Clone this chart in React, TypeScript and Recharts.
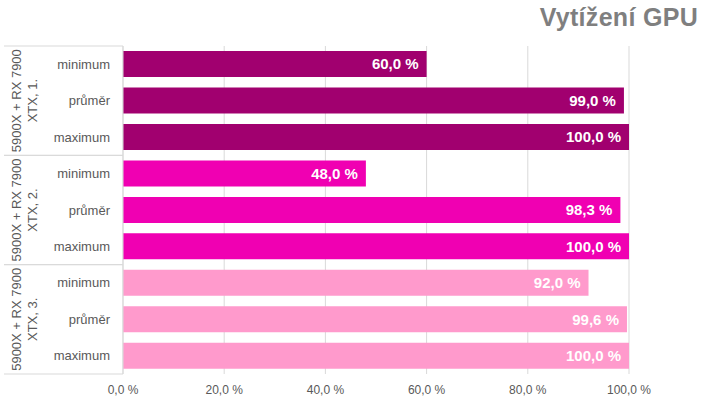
import { BarChart, Bar, XAxis, YAxis, CartesianGrid, LabelList, Cell } from 'recharts'

const groupLines = [
  ['5900X + RX 7900', 'XTX, 1.'],
  ['5900X + RX 7900', 'XTX, 2.'],
  ['5900X + RX 7900', 'XTX, 3.'],
]
const metrics = ['minimum', 'průměr', 'maximum']
const run1 = [60.0, 99.0, 100.0]
const run2 = [48.0, 98.3, 100.0]
const run3 = [92.0, 99.6, 100.0]
const groupColors = ['#A1006F', '#F000B2', '#FF9ACC']
const xTicks = [0, 20, 40, 60, 80, 100]

const W = 720
const H = 405
const LEFT = 123
const TOP = 46
const RIGHT = 91
const XAXIS_H = 31
const GRID = '#D9D9D9'
const TEXT = '#595959'
const FONT = '"Liberation Sans", Arial, sans-serif'

const data = [run1, run2, run3].flatMap((vals, g) =>
  vals.map((v, i) => ({ id: `${g}-${i}`, group: g, metric: i, value: v })),
)

const pct = (v: number) => `${v.toFixed(1).replace('.', ',')} %`

function CategoryTick(props: any) {
  const { x, y, payload, index } = props
  const row = data[index] ?? data[0]
  const half = payload?.offset || (H - TOP - XAXIS_H) / data.length / 2
  const lineX1 = 4
  const lineX2 = LEFT
  return (
    <g>
      <text x={x} y={y} dy="0.35em" textAnchor="end" fill={TEXT} fontSize={13} fontFamily={FONT}>
        {metrics[row.metric]}
      </text>
      {row.metric === 0 && (
        <line x1={lineX1} x2={lineX2} y1={y - half} y2={y - half} stroke={GRID} />
      )}
      {row.metric === 2 && (
        <line x1={lineX1} x2={lineX2} y1={y + half} y2={y + half} stroke={GRID} />
      )}
      {row.metric === 1 && (
        <text
          transform={`translate(24, ${y}) rotate(-90)`}
          textAnchor="middle"
          fill={TEXT}
          fontSize={13}
          fontFamily={FONT}
        >
          <tspan x={0} dy="-3">{groupLines[row.group][0]}</tspan>
          <tspan x={0} dy="16">{groupLines[row.group][1]}</tspan>
        </text>
      )}
    </g>
  )
}

export default function App() {
  return (
    <div style={{ position: 'absolute', left: 0, top: 0, width: W, height: H, background: '#fff', fontFamily: FONT }}>
      <div
        style={{
          position: 'absolute',
          right: 22,
          top: 3,
          fontSize: 25,
          fontWeight: 'bold',
          color: '#7F7F7F',
          fontFamily: FONT,
          letterSpacing: 0.3,
        }}
      >
        Vytížení GPU
      </div>
      <BarChart
        width={W}
        height={H}
        data={data}
        layout="vertical"
        margin={{ top: TOP, right: RIGHT, bottom: 0, left: 0 }}
        barCategoryGap="14%"
      >
        <CartesianGrid horizontal={false} stroke={GRID} />
        <XAxis
          type="number"
          domain={[0, 100]}
          ticks={xTicks}
          tickFormatter={pct}
          axisLine={false}
          tickLine={false}
          height={XAXIS_H}
          tickMargin={5}
          tick={{ fill: TEXT, fontSize: 12, fontFamily: FONT }}
          interval={0}
        />
        <YAxis
          type="category"
          dataKey="id"
          width={LEFT}
          axisLine={{ stroke: GRID }}
          tickLine={false}
          tickSize={0}
          tickMargin={13}
          interval={0}
          tick={<CategoryTick />}
        />
        <Bar dataKey="value" isAnimationActive={false}>
          {data.map((d) => (
            <Cell key={d.id} fill={groupColors[d.group]} />
          ))}
          <LabelList
            dataKey="value"
            position="insideRight"
            offset={8}
            formatter={(v: any) => pct(Number(v))}
            fill="#fff"
            fontSize={15}
            fontWeight="bold"
            fontFamily={FONT}
          />
        </Bar>
      </BarChart>
    </div>
  )
}
